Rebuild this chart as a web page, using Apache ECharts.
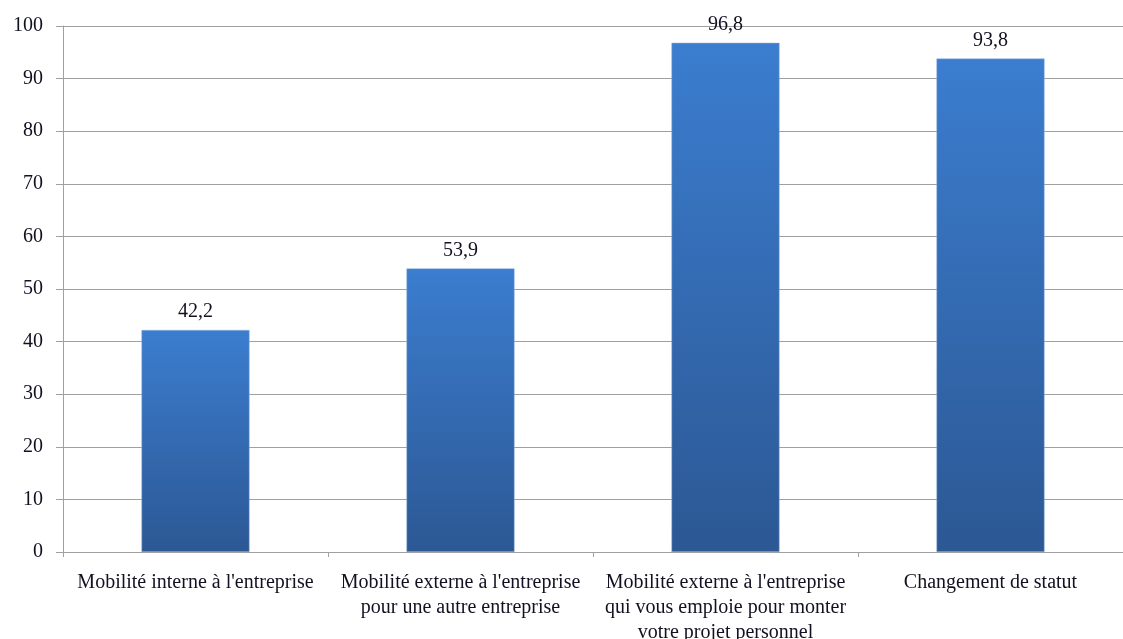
<!DOCTYPE html>
<html>
<head>
<meta charset="utf-8">
<script src="https://cdn.jsdelivr.net/npm/echarts@6/dist/echarts.min.js"></script>
<style>
html,body{margin:0;padding:0;background:#fff;}
#c{width:1123px;height:639px;}
</style>
</head>
<body>
<div id="c"></div>
<script>
var categories = [
  "Mobilité interne à l'entreprise",
  "Mobilité externe à l'entreprise\npour une autre entreprise",
  "Mobilité externe à l'entreprise\nqui vous emploie pour monter\nvotre projet personnel",
  "Changement de statut"
];
var values = [42.2, 53.9, 96.8, 93.8];
var yMin = 0, yMax = 100, yStep = 10;

var chart = echarts.init(document.getElementById('c'));
var font = "'Liberation Serif', 'Times New Roman', serif";
chart.setOption({
  animation: false,
  grid: {left: 63, right: 0, top: 26, bottom: 87, containLabel: false, outerBoundsMode: 'none'},
  xAxis: {
    type: 'category',
    data: categories,
    axisLine: {lineStyle: {color: '#a0a0a0', width: 1}},
    axisTick: {show: true, length: 5, lineStyle: {color: '#a0a0a0'}},
    axisLabel: {interval: 0, margin: 18, color: '#111122', fontFamily: font, fontSize: 20, lineHeight: 25, align: 'center'}
  },
  yAxis: {
    type: 'value',
    min: yMin, max: yMax, interval: yStep,
    axisLine: {show: true, lineStyle: {color: '#a0a0a0', width: 1}},
    axisTick: {show: true, length: 7, lineStyle: {color: '#a0a0a0'}},
    axisLabel: {margin: 20, color: '#111122', fontFamily: font, fontSize: 20},
    splitLine: {show: true, lineStyle: {color: '#a0a0a0', width: 1}}
  },
  series: [{
    type: 'bar',
    data: values,
    barWidth: 108,
    itemStyle: {
      color: new echarts.graphic.LinearGradient(0, 0, 0, 1, [
        {offset: 0, color: '#3b7dcf'},
        {offset: 1, color: '#2c5894'}
      ]),
      borderColor: '#8fb0dc',
      borderWidth: 0.5
    },
    label: {
      show: true, position: 'top', distance: 8,
      color: '#111122', fontFamily: font, fontSize: 20,
      formatter: function(p){ return String(p.value).replace('.', ','); }
    }
  }]
});
</script>
</body>
</html>
